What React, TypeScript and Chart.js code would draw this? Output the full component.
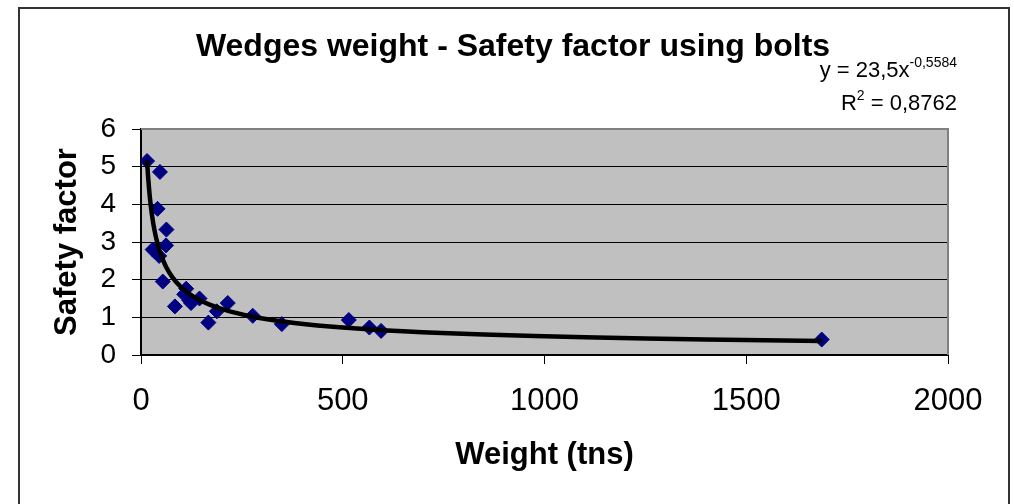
import React, { useEffect, useRef } from "react";
import { Chart, registerables } from "chart.js";

Chart.register(...registerables);

// ---- Data ----
const weights = [15, 47, 41, 63, 62, 29, 33, 45, 54, 84, 112, 107, 124, 145, 120, 167, 188, 215, 277, 349, 515, 566, 595, 1687];
const safetyFactors = [5.15, 4.86, 3.88, 3.33, 2.91, 2.8, 2.76, 2.63, 1.95, 1.29, 1.76, 1.61, 1.38, 1.5, 1.45, 0.86, 1.16, 1.38, 1.04, 0.82, 0.93, 0.73, 0.64, 0.41];

// Power trendline shown on the chart: y = 23.5 * x^-0.5584
const trendCoef = 23.5;
const trendExp = -0.5584;
const trendX = [15, 18, 22, 27, 33, 40, 50, 62, 78, 100, 130, 170, 220, 290, 380, 500, 650, 850, 1100, 1400, 1687];

const xTicks = [0, 500, 1000, 1500, 2000];
const yTicks = [0, 1, 2, 3, 4, 5, 6];

const titleText = "Wedges weight - Safety factor using bolts";
const xTitle = "Weight (tns)";
const yTitle = "Safety factor";
const eqMain = "y = 23,5x";
const eqSup = "-0,5584";
const r2Main = "R";
const r2Sup = "2";
const r2Rest = " = 0,8762";

const FONT = "'Liberation Sans', Arial, Helvetica, sans-serif";

export default function App() {
  const ref = useRef<HTMLCanvasElement | null>(null);

  useEffect(() => {
    if (!ref.current) return;

    const framePlugin = {
      id: "frame",
      beforeDraw(chart: any) {
        const { ctx, chartArea: a } = chart;
        ctx.save();
        ctx.fillStyle = "#ffffff";
        ctx.fillRect(0, 0, chart.width, chart.height);
        ctx.strokeStyle = "#333333";
        ctx.lineWidth = 2;
        ctx.strokeRect(19, 8, 990, 600);
        ctx.fillStyle = "#C0C0C0";
        ctx.fillRect(a.left, a.top, a.right - a.left, a.bottom - a.top);
        ctx.restore();
      },
      afterDraw(chart: any) {
        const { ctx, chartArea: a } = chart;
        ctx.save();
        // plot area grey border (top, right)
        ctx.strokeStyle = "#808080";
        ctx.lineWidth = 2;
        ctx.beginPath();
        ctx.moveTo(a.left, a.top);
        ctx.lineTo(a.right, a.top);
        ctx.lineTo(a.right, a.bottom);
        ctx.stroke();

        // chart title
        ctx.fillStyle = "#000";
        ctx.font = `bold 32px ${FONT}`;
        ctx.textAlign = "center";
        ctx.textBaseline = "middle";
        ctx.fillText(titleText, 513, 47);

        // trendline equation
        const mainFont = `22px ${FONT}`;
        const supFont = `14px ${FONT}`;
        const right = 957;
        ctx.textBaseline = "alphabetic";
        ctx.textAlign = "left";
        ctx.font = supFont;
        const supW = ctx.measureText(eqSup).width;
        ctx.font = mainFont;
        const mainW = ctx.measureText(eqMain).width;
        const base1 = 77;
        ctx.fillText(eqMain, right - supW - mainW, base1);
        ctx.font = supFont;
        ctx.fillText(eqSup, right - supW, base1 - 10);

        const base2 = 110;
        ctx.font = mainFont;
        const restW = ctx.measureText(r2Rest).width;
        const rW = ctx.measureText(r2Main).width;
        ctx.font = supFont;
        const r2W = ctx.measureText(r2Sup).width;
        let x = right - restW - r2W - rW;
        ctx.font = mainFont;
        ctx.fillText(r2Main, x, base2);
        x += rW;
        ctx.font = supFont;
        ctx.fillText(r2Sup, x, base2 - 10);
        x += r2W;
        ctx.font = mainFont;
        ctx.fillText(r2Rest, x, base2);
        ctx.restore();
      },
    };

    const chart = new Chart(ref.current, {
      type: "scatter",
      data: {
        datasets: [
          {
            type: "line",
            label: "Power trend",
            data: trendX.map((x) => ({ x, y: trendCoef * Math.pow(x, trendExp) })),
            borderColor: "#000000",
            borderWidth: 4.5,
            pointRadius: 0,
            tension: 0.4,
            fill: false,
            order: 0,
          } as any,
          {
            label: "Safety factor",
            data: weights.map((w, i) => ({ x: w, y: safetyFactors[i] })),
            backgroundColor: "#000080",
            borderColor: "#000080",
            pointStyle: "rectRot",
            pointRadius: 7.5,
            borderWidth: 1,
            order: 1,
          },
        ],
      },
      options: {
        responsive: false,
        animation: false,
        devicePixelRatio: 1,
        layout: { padding: { left: 45, right: 66, top: 129, bottom: 26 } },
        plugins: {
          legend: { display: false },
          tooltip: { enabled: false },
          title: { display: false },
        },
        scales: {
          x: {
            type: "linear",
            min: 0,
            max: 2000,
            afterBuildTicks: (s: any) => {
              s.ticks = xTicks.map((v) => ({ value: v }));
            },
            afterFit: (s: any) => {
              s.height = 123;
            },
            ticks: {
              color: "#000",
              font: { family: FONT, size: 31 },
              padding: 19,
              maxRotation: 0,
              callback: (v: any) => String(v),
            },
            grid: {
              drawOnChartArea: false,
              drawTicks: true,
              tickLength: 9,
              color: "#000",
            },
            border: { display: true, color: "#000", width: 2 },
            title: {
              display: true,
              text: xTitle,
              color: "#000",
              font: { family: FONT, size: 31, weight: "bold" },
              padding: { top: 4, bottom: 4 },
            },
          },
          y: {
            type: "linear",
            min: 0,
            max: 6,
            afterBuildTicks: (s: any) => {
              s.ticks = yTicks.map((v) => ({ value: v }));
            },
            afterFit: (s: any) => {
              s.width = 96;
            },
            ticks: {
              color: "#000",
              font: { family: FONT, size: 28 },
              padding: 16,
              callback: (v: any) => String(v),
            },
            grid: {
              color: "#000",
              lineWidth: 1,
              tickLength: 9,
            },
            border: { display: true, color: "#000", width: 2 },
            title: {
              display: true,
              text: yTitle,
              color: "#000",
              font: { family: FONT, size: 31, weight: "bold" },
              padding: { top: 4, bottom: 4 },
            },
          },
        },
      },
      plugins: [framePlugin],
    } as any);

    return () => chart.destroy();
  }, []);

  return (
    <div style={{ position: "absolute", left: 0, top: 0, width: 1014, height: 504 }}>
      <canvas ref={ref} width={1014} height={504} style={{ display: "block" }} />
    </div>
  );
}
